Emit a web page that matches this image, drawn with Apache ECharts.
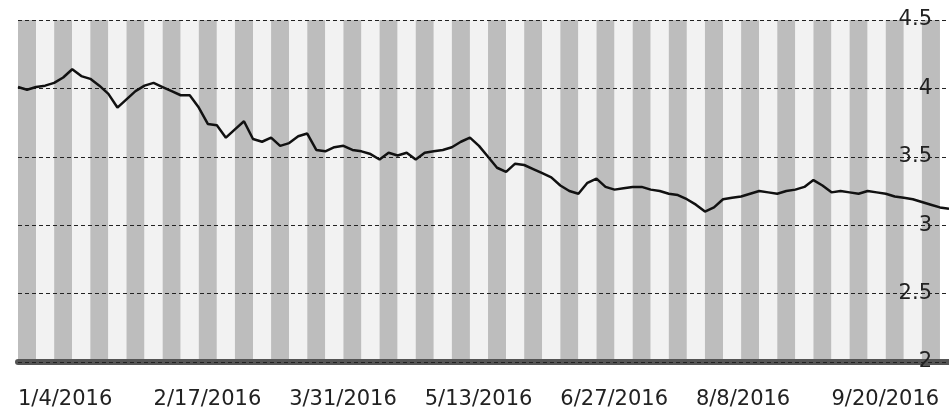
<!DOCTYPE html>
<html>
<head>
<meta charset="utf-8">
<script src="https://cdn.jsdelivr.net/npm/echarts@6.0.0/dist/echarts.min.js"></script>
<style>
    html, body { margin: 0; padding: 0; background: #fff; }
    #chart { width: 949px; height: 412px; }
</style>
</head>
<body>
<div id="chart"></div>
<script type="text/javascript">
    // dates (a sample every ~3 days), labels fall on every 15th one
    var dates = [
        '1/4/2016', '1/7/2016', '1/10/2016', '1/13/2016', '1/16/2016', '1/19/2016', '1/22/2016', '1/25/2016',
        '1/28/2016', '1/31/2016', '2/3/2016', '2/6/2016', '2/9/2016', '2/12/2016', '2/14/2016',
        '2/17/2016', '2/20/2016', '2/23/2016', '2/26/2016', '2/29/2016', '3/3/2016', '3/6/2016', '3/9/2016',
        '3/12/2016', '3/15/2016', '3/18/2016', '3/21/2016', '3/24/2016', '3/27/2016', '3/29/2016',
        '3/31/2016', '4/3/2016', '4/6/2016', '4/9/2016', '4/12/2016', '4/15/2016', '4/18/2016', '4/21/2016',
        '4/24/2016', '4/27/2016', '4/30/2016', '5/3/2016', '5/6/2016', '5/9/2016', '5/11/2016',
        '5/13/2016', '5/16/2016', '5/19/2016', '5/22/2016', '5/25/2016', '5/28/2016', '5/31/2016', '6/3/2016',
        '6/6/2016', '6/9/2016', '6/12/2016', '6/15/2016', '6/18/2016', '6/21/2016', '6/24/2016',
        '6/27/2016', '6/30/2016', '7/3/2016', '7/6/2016', '7/9/2016', '7/12/2016', '7/15/2016', '7/18/2016',
        '7/21/2016', '7/24/2016', '7/27/2016', '7/30/2016', '8/1/2016', '8/3/2016', '8/6/2016',
        '8/8/2016', '8/11/2016', '8/14/2016', '8/17/2016', '8/20/2016', '8/23/2016', '8/26/2016', '8/29/2016',
        '9/1/2016', '9/4/2016', '9/7/2016', '9/10/2016', '9/13/2016', '9/16/2016', '9/18/2016',
        '9/20/2016', '9/23/2016', '9/26/2016', '9/29/2016', '10/2/2016', '10/5/2016', '10/8/2016', '10/11/2016',
        '10/14/2016', '10/17/2016', '10/20/2016', '10/23/2016', '10/26/2016', '10/29/2016'
    ];

    var values = [
        4.01, 3.99, 4.01, 4.02, 4.04, 4.08, 4.14, 4.09, 4.07, 4.02, 3.96, 3.86, 3.92, 3.98, 4.02,
        4.04, 4.01, 3.98, 3.95, 3.95, 3.86, 3.74, 3.73, 3.64, 3.70, 3.76, 3.63, 3.61, 3.64, 3.58,
        3.60, 3.65, 3.67, 3.55, 3.54, 3.57, 3.58, 3.55, 3.54, 3.52, 3.48, 3.53, 3.51, 3.53, 3.48,
        3.53, 3.54, 3.55, 3.57, 3.61, 3.64, 3.58, 3.50, 3.42, 3.39, 3.45, 3.44, 3.41, 3.38, 3.35,
        3.29, 3.25, 3.23, 3.31, 3.34, 3.28, 3.26, 3.27, 3.28, 3.28, 3.26, 3.25, 3.23, 3.22, 3.19,
        3.15, 3.10, 3.13, 3.19, 3.20, 3.21, 3.23, 3.25, 3.24, 3.23, 3.25, 3.26, 3.28, 3.33, 3.29,
        3.24, 3.25, 3.24, 3.23, 3.25, 3.24, 3.23, 3.21, 3.20, 3.19, 3.17, 3.15, 3.13, 3.12
    ];

    var yMin = 2;
    var yMax = 4.5;
    var yStep = 0.5;

    var chart = echarts.init(document.getElementById('chart'));
    chart.setOption({
        animation: false,
        backgroundColor: '#fff',
        textStyle: { fontFamily: 'DejaVu Sans' },
        grid: { left: 18, right: 0, top: 20, bottom: 50 },
        xAxis: {
            type: 'category',
            data: dates,
            boundaryGap: false,
            z: 0,
            axisLine: { show: true, lineStyle: { color: '#555', width: 6 } },
            axisTick: { show: false },
            axisLabel: {
                interval: 14,
                align: 'left',
                margin: 27,
                color: '#222',
                fontSize: 21,
                hideOverlap: false
            },
            splitLine: { show: false },
            // vertical banding of the plot background
            splitArea: {
                show: true,
                interval: 1,
                areaStyle: { color: ['#bdbdbd', '#f2f2f2'] }
            }
        },
        yAxis: {
            type: 'value',
            position: 'right',
            min: yMin,
            max: yMax,
            interval: yStep,
            z: 3,
            axisLine: { show: false },
            axisTick: { show: false },
            axisLabel: {
                inside: true,
                margin: 17,
                color: '#222',
                fontSize: 21
            },
            splitLine: {
                show: true,
                lineStyle: { color: '#222', width: 1, type: [4, 3] }
            }
        },
        series: [{
            type: 'line',
            data: values,
            showSymbol: false,
            lineStyle: { color: '#111', width: 2.5 },
            z: 5
        }]
    });
</script>
</body>
</html>
